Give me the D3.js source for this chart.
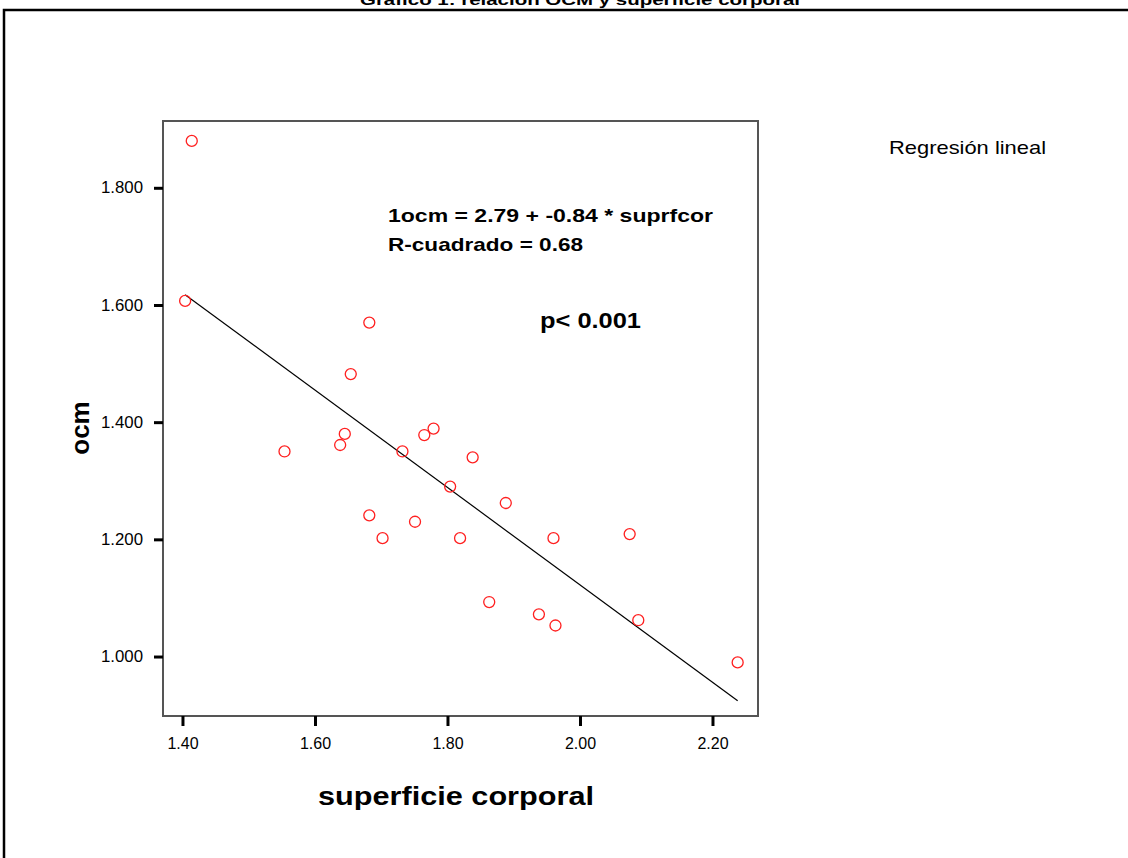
<!DOCTYPE html>
<html>
<head>
<meta charset="utf-8">
<script src="https://cdn.jsdelivr.net/npm/d3@7"></script>
<style>
  body { margin: 0; background: #fff; }
  svg { display: block; font-family: "Liberation Sans", Arial, sans-serif; }
</style>
</head>
<body>
<svg id="chart" width="1128" height="858"></svg>
<script>
// superficie corporal (x) and ocm (y)
var superficie = [1.414, 1.404, 1.682, 1.654, 1.645, 1.638, 1.554, 1.779, 1.765, 1.732, 1.838, 1.804,
                  1.888, 1.682, 1.751, 1.702, 1.819, 1.960, 2.075, 1.863, 1.938, 1.963, 2.088, 2.238];
var ocm        = [1.880, 1.607, 1.570, 1.482, 1.380, 1.361, 1.350, 1.389, 1.378, 1.350, 1.340, 1.290,
                  1.262, 1.241, 1.230, 1.202, 1.202, 1.202, 1.209, 1.093, 1.072, 1.053, 1.062, 0.990];
var xTicks = [1.40, 1.60, 1.80, 2.00, 2.20];
var yTicks = [1.000, 1.200, 1.400, 1.600, 1.800];
var equationLines = ["1ocm = 2.79 + -0.84 * suprfcor", "R-cuadrado = 0.68"];
var pText = "p< 0.001";
var titleText = "Gráfico 1: relación OCM y superficie corporal";

(function draw() {
  var svg = d3.select("#chart");

  // outer frame (cut off on the right / bottom like the original)
  svg.append("path")
    .attr("d", "M4,858 V10 H1128")
    .attr("fill", "none").attr("stroke", "#000").attr("stroke-width", 2.5);

  svg.append("text")
    .attr("x", 580).attr("y", 5)
    .attr("text-anchor", "middle")
    .attr("font-weight", "bold").attr("font-size", 15)
    .attr("textLength", 440).attr("lengthAdjust", "spacingAndGlyphs")
    .text(titleText);

  var pl = 163, pr = 758, pt = 121, pb = 716;

  var x = d3.scaleLinear().domain([1.3706, 2.2687]).range([pl, pr]);
  var y = d3.scaleLinear().domain([0.8985, 1.914]).range([pb, pt]);

  // plot box
  svg.append("rect")
    .attr("x", pl).attr("y", pt)
    .attr("width", pr - pl).attr("height", pb - pt)
    .attr("fill", "none").attr("stroke", "#555").attr("stroke-width", 2);

  // y axis
  var yAxis = svg.append("g")
    .attr("transform", "translate(" + pl + ",0)")
    .call(d3.axisLeft(y).tickValues(yTicks).tickFormat(d3.format(".3f")).tickSize(9).tickPadding(11));
  yAxis.select(".domain").remove();
  yAxis.selectAll(".tick line").attr("stroke", "#000").attr("stroke-width", 3);
  yAxis.selectAll(".tick text")
    .attr("font-size", 16).attr("fill", "#000")
    .attr("textLength", 42).attr("lengthAdjust", "spacingAndGlyphs")
    .attr("font-family", "'Liberation Sans', Arial, sans-serif");

  // x axis
  var xAxis = svg.append("g")
    .attr("transform", "translate(0," + pb + ")")
    .call(d3.axisBottom(x).tickValues(xTicks).tickFormat(d3.format(".2f")).tickSize(10).tickPadding(12));
  xAxis.select(".domain").remove();
  xAxis.selectAll(".tick line").attr("stroke", "#000").attr("stroke-width", 3);
  xAxis.selectAll(".tick text")
    .attr("font-size", 16).attr("fill", "#000")
    .attr("font-family", "'Liberation Sans', Arial, sans-serif");

  // least squares fit through the points
  var mx = d3.mean(superficie), my = d3.mean(ocm);
  var sxy = d3.sum(superficie, function(v, i){ return (v - mx) * (ocm[i] - my); });
  var sxx = d3.sum(superficie, function(v){ return (v - mx) * (v - mx); });
  var slope = sxy / sxx, intercept = my - slope * mx;
  var xExt = d3.extent(superficie);

  svg.append("line")
    .attr("x1", x(xExt[0])).attr("y1", y(intercept + slope * xExt[0]))
    .attr("x2", x(xExt[1])).attr("y2", y(intercept + slope * xExt[1]))
    .attr("stroke", "#000").attr("stroke-width", 1.2);

  svg.selectAll("circle.pt")
    .data(superficie)
    .enter().append("circle")
    .classed("pt", true)
    .attr("cx", function(d){ return x(d); })
    .attr("cy", function(d, i){ return y(ocm[i]); })
    .attr("r", 5.5)
    .attr("fill", "none").attr("stroke", "#ff2020").attr("stroke-width", 1.3);

  // annotations
  svg.selectAll("text.eq")
    .data(equationLines)
    .enter().append("text")
    .classed("eq", true)
    .attr("x", 388)
    .attr("y", function(d, i){ return 222 + i * 29; })
    .attr("font-weight", "bold").attr("font-size", 19)
    .attr("textLength", function(d, i){ return i === 0 ? 325 : 195; })
    .attr("lengthAdjust", "spacingAndGlyphs")
    .text(function(d){ return d; });

  svg.append("text")
    .attr("x", 540).attr("y", 328)
    .attr("font-weight", "bold").attr("font-size", 22)
    .attr("textLength", 101).attr("lengthAdjust", "spacingAndGlyphs")
    .text(pText);

  svg.append("text")
    .attr("x", 889).attr("y", 154)
    .attr("font-size", 19)
    .attr("textLength", 157).attr("lengthAdjust", "spacingAndGlyphs")
    .text("Regresión lineal");

  // axis titles
  svg.append("text")
    .attr("x", 456).attr("y", 805)
    .attr("text-anchor", "middle")
    .attr("font-weight", "bold").attr("font-size", 26)
    .attr("textLength", 276).attr("lengthAdjust", "spacingAndGlyphs")
    .text("superficie corporal");

  svg.append("text")
    .attr("transform", "translate(89,428) rotate(-90)")
    .attr("text-anchor", "middle")
    .attr("font-weight", "bold").attr("font-size", 26)
    .text("ocm");
})();
</script>
</body>
</html>
